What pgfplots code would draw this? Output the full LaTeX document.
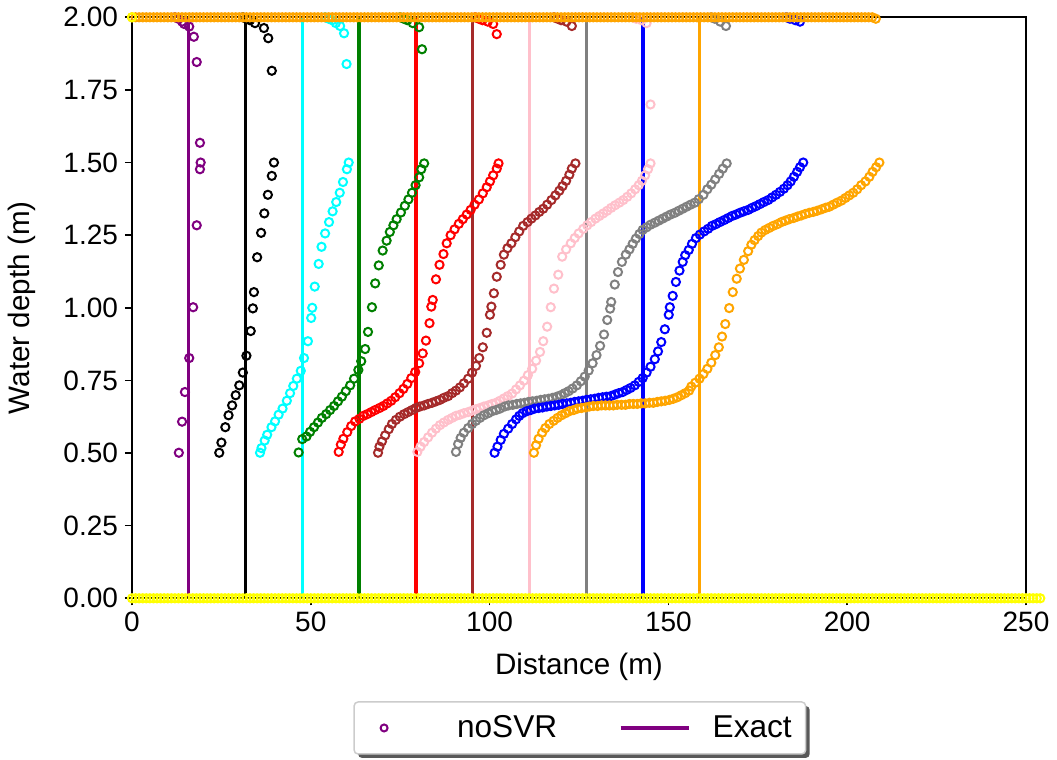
\documentclass[border=0pt]{standalone}
\usepackage{fontspec}
\setmainfont{Liberation Sans}
\usepackage{pgfplots}
\pgfplotsset{compat=1.18}
\usetikzlibrary{backgrounds}
\definecolor{mpurple}{RGB}{128,0,128}
\definecolor{mcyan}{RGB}{0,255,255}
\definecolor{mgreen}{RGB}{0,128,0}
\definecolor{mred}{RGB}{255,0,0}
\definecolor{mbrown}{RGB}{165,42,42}
\definecolor{mpink}{RGB}{255,192,203}
\definecolor{mgray}{RGB}{128,128,128}
\definecolor{mblue}{RGB}{0,0,255}
\definecolor{morange}{RGB}{255,165,0}
\definecolor{myellow}{RGB}{255,255,0}
\pgfplotsset{
  circ/.style={only marks, mark=o, mark size=2.05pt, mark options={line width=1.0pt, solid}},
  exact/.style={no marks, line width=1.6pt},
}
\begin{document}
\begin{tikzpicture}
\begin{axis}[
  at={(0,0)}, anchor=south west,
  scale only axis, width=447pt, height=290.5pt,
  xmin=0, xmax=250, ymin=0, ymax=2,
  clip=false, axis on top,
  xtick={0,50,100,150,200,250},
  ytick={0,0.25,0.5,0.75,1,1.25,1.5,1.75,2},
  tick align=outside, xtick pos=bottom, ytick pos=left,
  major tick length=3.5pt,
  tick style={line width=0.8pt, black},
  axis line style={line width=0.8pt},
  /pgf/number format/assume math mode=true,
  yticklabel style={/pgf/number format/.cd, fixed, fixed zerofill, precision=2},
  ticklabel style={font=\fontsize{14}{16}\selectfont},
  label style={font=\fontsize{14.8}{17}\selectfont},
  xlabel={Distance (m)}, ylabel={Water depth (m)},
  xlabel style={at={(axis description cs:0.5,-0.118)}, anchor=center},
  ylabel style={at={(axis description cs:-0.123,0.5)}, anchor=center},
  legend columns=2,
  legend style={name=leg, at={(axis description cs:0.501,-0.2232)}, anchor=center,
    draw=black!20, line width=0.75pt, rounded corners=2pt, fill=white,
    inner sep=0pt, outer sep=0pt, column sep=0pt,
    font=\fontsize{15.8}{18}\selectfont,
    nodes={inner sep=0pt, outer sep=0pt}, cells={anchor=west}},
]
% ---------------- noSVR (circles) ----------------
\addplot[circ, mpurple, legend image code/.code={
    \path[draw=none, fill=none] (0pt,-13pt) rectangle (51.5pt,13pt);
    \draw[mpurple, line width=1.0pt, fill=none] (15pt,0pt) circle (1.75pt);}]
 coordinates {(12,2)(13,1.995)(14,1.985)(14.6,1.977)(16.0,1.968)(17.3,1.933)(18.1,1.846)
 (13.1,0.501)(14.0,0.608)(14.8,0.710)(16.0,0.827)(17.1,1.002)(18.1,1.284)(19.0,1.477)(19.2,1.500)(19.0,1.568)};
\addlegendentry{\makebox[81pt][l]{noSVR}}
\addplot[circ, black, forget plot] coordinates {(31,2)(32,1.995)(33,1.99)(34.4,1.98)(36.9,1.963)(38.1,1.928)(39.1,1.816)
 (24.4,0.501)(25.0,0.536)(26.1,0.589)(27.0,0.630)(28.0,0.664)(29.0,0.699)(30.0,0.733)(31.0,0.777)(32.0,0.835)(33.2,0.920)(33.8,0.998)(34.1,1.054)(35.0,1.174)(36.1,1.258)(37.0,1.325)(38.0,1.389)(39.1,1.454)(39.7,1.500)};
\addplot[circ, mcyan, forget plot] coordinates {(54,2)(55,1.995)(56,1.99)(57,1.98)(58.2,1.970)(59.3,1.945)(60.0,1.839)
 (35.8,0.501)(36.2,0.517)(37.1,0.543)(37.8,0.563)(39.0,0.589)(40.0,0.609)(41.0,0.632)(42.1,0.653)(43.3,0.680)(44.2,0.706)(45.1,0.731)(46.1,0.756)(47.2,0.783)(48.1,0.827)(49.2,0.885)(50.1,0.965)(50.4,1.000)(51.1,1.073)(52.2,1.151)(53.0,1.210)(54.0,1.256)(55.1,1.295)(56.1,1.332)(57.1,1.364)(58.1,1.396)(59.0,1.433)(60.1,1.477)(60.6,1.500)};
\addplot[circ, mgreen, forget plot] coordinates {(75,2)(76,1.995)(77,1.99)(78.5,1.98)(80.3,1.966)(81.1,1.890)
 (46.6,0.502)(47.6,0.548)(48.8,0.557)(49.8,0.573)(50.9,0.589)(52.0,0.605)(53.1,0.621)(54.3,0.634)(55.4,0.648)(56.5,0.662)(57.6,0.678)(58.7,0.694)(59.8,0.713)(61.0,0.733)(62.1,0.756)(63.3,0.786)(64.1,0.816)(65.2,0.858)(66.0,0.917)(67.1,1.002)(68.0,1.084)(69.0,1.146)(70.1,1.197)(71.2,1.231)(72.1,1.261)(73.1,1.284)(74.0,1.305)(75.2,1.328)(76.3,1.351)(77.3,1.373)(78.3,1.396)(79.3,1.422)(80.3,1.449)(80.9,1.477)(81.7,1.497)};
\addplot[circ, mred, forget plot] coordinates {(96,2)(97,1.995)(98,1.99)(99.5,1.985)(101.0,1.977)(102.0,1.942)
 (57.8,0.504)(58.4,0.529)(59.1,0.549)(60.2,0.572)(61.3,0.593)(62.4,0.609)(63.6,0.618)(64.7,0.628)(65.8,0.634)(66.9,0.641)(68.0,0.648)(69.2,0.655)(70.3,0.662)(71.4,0.671)(72.5,0.680)(73.6,0.692)(74.8,0.706)(75.9,0.721)(77.0,0.738)(78.1,0.758)(79.2,0.779)(80.3,0.809)(81.3,0.843)(82.2,0.887)(83.2,0.947)(83.7,1.004)(84.1,1.027)(85.0,1.098)(86.0,1.148)(87.1,1.185)(88.0,1.222)(89.1,1.250)(90.2,1.270)(91.4,1.289)(92.5,1.305)(93.6,1.321)(94.7,1.337)(95.8,1.355)(97.0,1.373)(98.1,1.394)(99.2,1.415)(100.1,1.435)(101.0,1.456)(102.0,1.479)(102.5,1.497)};
\addplot[circ, mbrown, forget plot] coordinates {(118,2)(119,1.995)(120,1.99)(121.5,1.985)(123.0,1.970)
 (68.8,0.501)(69.2,0.522)(69.9,0.540)(70.8,0.561)(71.8,0.582)(72.7,0.600)(73.8,0.614)(74.9,0.625)(76.1,0.634)(77.2,0.641)(78.3,0.648)(79.4,0.655)(80.5,0.660)(81.7,0.664)(82.8,0.669)(83.9,0.673)(85.0,0.678)(86.1,0.683)(87.2,0.690)(88.4,0.696)(89.5,0.706)(90.6,0.715)(91.7,0.726)(92.8,0.740)(94.0,0.756)(95.1,0.777)(96.2,0.800)(97.1,0.827)(98.1,0.864)(99.2,0.914)(100.1,0.976)(100.5,1.004)(101.2,1.050)(102.0,1.107)(103.1,1.148)(104.0,1.183)(105.0,1.205)(106.1,1.222)(107.2,1.243)(108.3,1.263)(109.4,1.282)(110.6,1.295)(111.7,1.307)(112.8,1.318)(113.9,1.330)(115.0,1.341)(116.1,1.355)(117.3,1.371)(118.4,1.387)(119.5,1.403)(120.4,1.419)(121.4,1.437)(122.3,1.458)(123.0,1.479)(124.0,1.497)};
\addplot[circ, mpink, forget plot] coordinates {(140,2)(141,1.995)(142.5,1.99)(143.9,1.98)(145.0,1.70)
 (79.8,0.504)(80.7,0.522)(81.7,0.538)(82.8,0.554)(83.9,0.570)(85.0,0.584)(86.1,0.596)(87.2,0.605)(88.4,0.614)(89.5,0.621)(90.6,0.628)(91.7,0.632)(92.8,0.637)(94.0,0.641)(95.1,0.646)(96.2,0.651)(97.3,0.655)(98.4,0.660)(99.6,0.664)(100.7,0.669)(101.8,0.673)(102.9,0.680)(104.0,0.688)(105.1,0.696)(106.3,0.705)(107.4,0.719)(108.5,0.733)(109.6,0.749)(110.7,0.768)(111.9,0.790)(113.0,0.818)(114.1,0.848)(115.0,0.885)(116.1,0.935)(117.1,1.002)(118.0,1.066)(119.2,1.114)(120.3,1.176)(121.4,1.201)(122.7,1.222)(123.8,1.240)(124.9,1.256)(126.2,1.272)(127.3,1.284)(128.4,1.295)(129.6,1.307)(130.7,1.316)(131.8,1.325)(132.9,1.334)(134.0,1.344)(135.1,1.353)(136.3,1.362)(137.4,1.371)(138.5,1.382)(139.6,1.394)(140.7,1.408)(141.7,1.422)(142.6,1.437)(143.5,1.456)(144.3,1.477)(145.0,1.497)};
\addplot[circ, mgray, forget plot] coordinates {(162,2)(163,1.995)(164.5,1.985)(166.1,1.970)
 (90.6,0.504)(91.2,0.531)(91.9,0.552)(92.8,0.570)(94.0,0.586)(95.1,0.600)(96.2,0.611)(97.3,0.621)(98.4,0.630)(99.6,0.637)(100.7,0.644)(101.8,0.648)(102.9,0.653)(104.2,0.660)(105.3,0.664)(106.5,0.666)(107.6,0.669)(108.7,0.671)(109.8,0.673)(110.9,0.676)(112.0,0.678)(113.2,0.680)(114.3,0.683)(115.4,0.685)(116.5,0.687)(117.6,0.690)(118.8,0.694)(119.9,0.699)(121.0,0.706)(122.1,0.713)(123.2,0.722)(124.4,0.733)(125.5,0.747)(126.6,0.763)(127.7,0.784)(128.8,0.809)(129.9,0.837)(130.9,0.869)(132.0,0.908)(132.9,0.958)(133.7,0.997)(134.0,1.020)(135.0,1.080)(135.9,1.123)(137.0,1.158)(138.1,1.183)(139.1,1.201)(140.0,1.220)(140.9,1.238)(141.9,1.254)(142.8,1.268)(143.9,1.277)(145.0,1.286)(146.2,1.293)(147.3,1.300)(148.4,1.307)(149.5,1.314)(150.6,1.321)(151.8,1.327)(152.9,1.334)(154.0,1.341)(155.1,1.348)(156.2,1.355)(157.4,1.362)(158.5,1.374)(159.8,1.389)(160.9,1.408)(162.0,1.424)(163.1,1.442)(164.2,1.461)(165.2,1.479)(166.3,1.497)};
\addplot[circ, mblue, forget plot] coordinates {(183,2)(184,1.995)(185.5,1.99)(186.8,1.985)
 (101.4,0.501)(102.2,0.522)(103.1,0.545)(104.0,0.566)(105.2,0.584)(106.3,0.600)(107.4,0.616)(108.3,0.628)(109.2,0.637)(110.4,0.644)(111.5,0.648)(112.6,0.653)(113.7,0.655)(114.8,0.657)(116.0,0.660)(117.1,0.662)(118.2,0.664)(119.3,0.666)(120.4,0.669)(121.6,0.671)(122.7,0.673)(123.8,0.676)(124.9,0.678)(126.0,0.680)(127.1,0.683)(128.3,0.685)(129.4,0.687)(130.5,0.690)(131.6,0.692)(132.7,0.694)(133.9,0.696)(135.0,0.701)(136.1,0.706)(137.2,0.710)(138.3,0.717)(139.4,0.724)(140.6,0.733)(141.7,0.745)(142.8,0.758)(143.9,0.777)(145.0,0.797)(146.2,0.823)(147.1,0.850)(148.0,0.882)(149.0,0.926)(150.1,0.976)(150.4,1.002)(151.2,1.041)(152.1,1.089)(153.1,1.128)(154.0,1.158)(154.7,1.181)(155.7,1.199)(156.6,1.220)(157.7,1.240)(158.8,1.252)(160.0,1.263)(161.1,1.272)(162.2,1.282)(163.3,1.288)(164.4,1.295)(165.6,1.302)(166.7,1.309)(167.8,1.316)(168.9,1.321)(170.0,1.327)(171.1,1.332)(172.3,1.337)(173.4,1.344)(174.5,1.350)(175.6,1.357)(176.7,1.364)(177.9,1.371)(179.0,1.380)(180.1,1.389)(181.2,1.399)(182.3,1.410)(183.3,1.422)(184.2,1.435)(185.1,1.451)(186.0,1.468)(186.8,1.484)(187.7,1.500)};
\addplot[circ, morange, forget plot] coordinates {
 (0,2)(1,2)(2,2)(3,2)(4,2)(5,2)(6,2)(7,2)(8,2)(9,2)(10,2)(11,2)(12,2)(13,2)(14,2)(15,2)(16,2)(17,2)(18,2)(19,2)
 (20,2)(21,2)(22,2)(23,2)(24,2)(25,2)(26,2)(27,2)(28,2)(29,2)(30,2)(31,2)(32,2)(33,2)(34,2)(35,2)(36,2)(37,2)(38,2)(39,2)
 (40,2)(41,2)(42,2)(43,2)(44,2)(45,2)(46,2)(47,2)(48,2)(49,2)(50,2)(51,2)(52,2)(53,2)(54,2)(55,2)(56,2)(57,2)(58,2)(59,2)
 (60,2)(61,2)(62,2)(63,2)(64,2)(65,2)(66,2)(67,2)(68,2)(69,2)(70,2)(71,2)(72,2)(73,2)(74,2)(75,2)(76,2)(77,2)(78,2)(79,2)
 (80,2)(81,2)(82,2)(83,2)(84,2)(85,2)(86,2)(87,2)(88,2)(89,2)(90,2)(91,2)(92,2)(93,2)(94,2)(95,2)(96,2)(97,2)(98,2)(99,2)
 (100,2)(101,2)(102,2)(103,2)(104,2)(105,2)(106,2)(107,2)(108,2)(109,2)(110,2)(111,2)(112,2)(113,2)(114,2)(115,2)(116,2)(117,2)(118,2)(119,2)
 (120,2)(121,2)(122,2)(123,2)(124,2)(125,2)(126,2)(127,2)(128,2)(129,2)(130,2)(131,2)(132,2)(133,2)(134,2)(135,2)(136,2)(137,2)(138,2)(139,2)
 (140,2)(141,2)(142,2)(143,2)(144,2)(145,2)(146,2)(147,2)(148,2)(149,2)(150,2)(151,2)(152,2)(153,2)(154,2)(155,2)(156,2)(157,2)(158,2)(159,2)
 (160,2)(161,2)(162,2)(163,2)(164,2)(165,2)(166,2)(167,2)(168,2)(169,2)(170,2)(171,2)(172,2)(173,2)(174,2)(175,2)(176,2)(177,2)(178,2)(179,2)
 (180,2)(181,2)(182,2)(183,2)(184,2)(185,2)(186,2)(187,2)(188,2)(189,2)(190,2)(191,2)(192,2)(193,2)(194,2)(195,2)(196,2)(197,2)(198,2)(199,2)
 (200,2)(201,2)(202,2)(203,2)(204,2)(205,2)(206,2)(207,2)(208,1.995)
 (112.4,0.501)(113.0,0.527)(113.7,0.549)(114.7,0.570)(115.6,0.586)(116.7,0.600)(117.9,0.611)(119.0,0.621)(120.1,0.630)(121.2,0.637)(122.3,0.644)(123.5,0.648)(124.6,0.653)(125.7,0.655)(126.8,0.657)(127.9,0.660)(129.0,0.662)(130.2,0.662)(131.3,0.664)(132.4,0.664)(133.5,0.664)(134.6,0.664)(135.7,0.666)(136.9,0.666)(138.0,0.666)(139.1,0.669)(140.2,0.669)(141.3,0.669)(142.4,0.671)(143.5,0.671)(144.7,0.673)(145.8,0.673)(146.9,0.676)(148.0,0.678)(149.1,0.680)(150.3,0.683)(151.4,0.687)(152.5,0.692)(153.6,0.699)(154.7,0.706)(155.8,0.715)(156.4,0.729)
 (157.5,0.742)(158.7,0.756)(159.8,0.772)(160.9,0.790)(162.0,0.811)(163.1,0.837)(164.1,0.864)(165.0,0.901)(165.9,0.944)(167.0,0.999)(168.0,1.054)(169.1,1.100)(170.0,1.135)(171.1,1.165)(172.3,1.195)(173.2,1.217)(174.1,1.233)(175.1,1.247)(176.0,1.259)(177.1,1.268)(178.2,1.275)(179.3,1.282)(180.5,1.288)(181.6,1.295)(182.7,1.300)(183.8,1.305)(185.0,1.309)(186.1,1.314)(187.2,1.318)(188.3,1.323)(189.4,1.327)(190.5,1.330)(191.6,1.334)(192.8,1.339)(193.9,1.344)(195.0,1.348)(196.1,1.355)(197.2,1.362)(198.4,1.369)(199.5,1.378)(200.6,1.387)(201.7,1.396)(202.8,1.408)(203.9,1.422)(205.1,1.435)(206.2,1.451)(207.1,1.468)(208.1,1.484)(209.0,1.500)};
\addplot[circ, myellow, forget plot] coordinates {(0,2)
 (0,0)(1,0)(2,0)(3,0)(4,0)(5,0)(6,0)(7,0)(8,0)(9,0)(10,0)(11,0)(12,0)(13,0)(14,0)(15,0)(16,0)(17,0)(18,0)(19,0)
 (20,0)(21,0)(22,0)(23,0)(24,0)(25,0)(26,0)(27,0)(28,0)(29,0)(30,0)(31,0)(32,0)(33,0)(34,0)(35,0)(36,0)(37,0)(38,0)(39,0)
 (40,0)(41,0)(42,0)(43,0)(44,0)(45,0)(46,0)(47,0)(48,0)(49,0)(50,0)(51,0)(52,0)(53,0)(54,0)(55,0)(56,0)(57,0)(58,0)(59,0)
 (60,0)(61,0)(62,0)(63,0)(64,0)(65,0)(66,0)(67,0)(68,0)(69,0)(70,0)(71,0)(72,0)(73,0)(74,0)(75,0)(76,0)(77,0)(78,0)(79,0)
 (80,0)(81,0)(82,0)(83,0)(84,0)(85,0)(86,0)(87,0)(88,0)(89,0)(90,0)(91,0)(92,0)(93,0)(94,0)(95,0)(96,0)(97,0)(98,0)(99,0)
 (100,0)(101,0)(102,0)(103,0)(104,0)(105,0)(106,0)(107,0)(108,0)(109,0)(110,0)(111,0)(112,0)(113,0)(114,0)(115,0)(116,0)(117,0)(118,0)(119,0)
 (120,0)(121,0)(122,0)(123,0)(124,0)(125,0)(126,0)(127,0)(128,0)(129,0)(130,0)(131,0)(132,0)(133,0)(134,0)(135,0)(136,0)(137,0)(138,0)(139,0)
 (140,0)(141,0)(142,0)(143,0)(144,0)(145,0)(146,0)(147,0)(148,0)(149,0)(150,0)(151,0)(152,0)(153,0)(154,0)(155,0)(156,0)(157,0)(158,0)(159,0)
 (160,0)(161,0)(162,0)(163,0)(164,0)(165,0)(166,0)(167,0)(168,0)(169,0)(170,0)(171,0)(172,0)(173,0)(174,0)(175,0)(176,0)(177,0)(178,0)(179,0)
 (180,0)(181,0)(182,0)(183,0)(184,0)(185,0)(186,0)(187,0)(188,0)(189,0)(190,0)(191,0)(192,0)(193,0)(194,0)(195,0)(196,0)(197,0)(198,0)(199,0)
 (200,0)(201,0)(202,0)(203,0)(204,0)(205,0)(206,0)(207,0)(208,0)(209,0)(210,0)(211,0)(212,0)(213,0)(214,0)(215,0)(216,0)(217,0)(218,0)(219,0)
 (220,0)(221,0)(222,0)(223,0)(224,0)(225,0)(226,0)(227,0)(228,0)(229,0)(230,0)(231,0)(232,0)(233,0)(234,0)(235,0)(236,0)(237,0)(238,0)(239,0)
 (240,0)(241,0)(242,0)(243,0)(244,0)(245,0)(246,0)(247,0)(248,0)(249,0)(250,0)(251,0)(252,0)(253,0)(254,0)};
% ---------------- Exact (vertical fronts) ----------------
\addplot[exact, mpurple, legend image code/.code={
    \path[draw=none, fill=none] (0pt,-13pt) rectangle (46pt,13pt);
    \draw[mpurple, line width=1.6pt] (0pt,0pt) -- (34pt,0pt);}]
 coordinates {(15.9,0) (15.9,2)};
\addlegendentry{\makebox[46.5pt][l]{Exact}}
\addplot[exact, black, forget plot] coordinates {(31.75,0) (31.75,2)};
\addplot[exact, mcyan, forget plot] coordinates {(47.6,0) (47.6,2)};
\addplot[exact, mgreen, forget plot] coordinates {(63.5,0) (63.5,2)};
\addplot[exact, mred, forget plot] coordinates {(79.4,0) (79.4,2)};
\addplot[exact, mbrown, forget plot] coordinates {(95.3,0) (95.3,2)};
\addplot[exact, mpink, forget plot] coordinates {(111.1,0) (111.1,2)};
\addplot[exact, mgray, forget plot] coordinates {(127.0,0) (127.0,2)};
\addplot[exact, mblue, forget plot] coordinates {(142.9,0) (142.9,2)};
\addplot[exact, morange, forget plot] coordinates {(158.8,0) (158.8,2)};
\end{axis}
\begin{pgfonlayer}{background}
  \fill[black!65, rounded corners=2pt] ([shift={(2pt,-2pt)}]leg.south west) rectangle ([shift={(2pt,-2pt)}]leg.north east);
\end{pgfonlayer}
\pgfresetboundingbox
\path[use as bounding box] (-66pt,-80.85pt) rectangle (462.5pt,299.15pt);
\end{tikzpicture}
\end{document}
